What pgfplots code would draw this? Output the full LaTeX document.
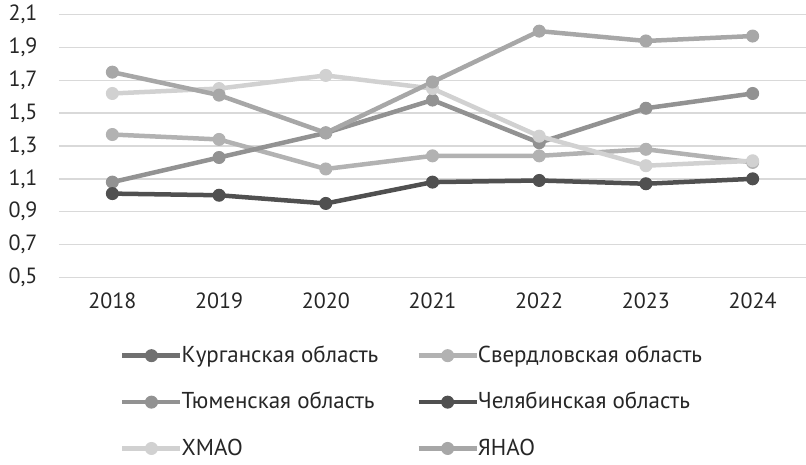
\documentclass[border=0pt]{standalone}
\usepackage{pgfplots}
\pgfplotsset{compat=1.18}
\usepackage{fontspec}
\setmainfont{PT Sans}
\definecolor{ckurgan}{HTML}{707070}
\definecolor{csverd}{HTML}{B2B2B2}
\definecolor{ctyumen}{HTML}{929292}
\definecolor{cchel}{HTML}{505050}
\definecolor{chmao}{HTML}{D1D1D1}
\definecolor{cyanao}{HTML}{A7A7A7}
\definecolor{gridgray}{HTML}{D9D9D9}
\begin{document}
\fontsize{22}{26}\selectfont
\begin{tikzpicture}
\useasboundingbox (-59pt,-186.7pt) rectangle (747pt,277.3pt);
\begin{axis}[
  at={(0,0)}, anchor=south west,
  width=747pt, height=262.6pt, scale only axis,
  xmin=-0.5, xmax=6.5, ymin=0.5, ymax=2.1,
  xtick={0,1,2,3,4,5,6},
  xticklabels={2018,2019,2020,2021,2022,2023,2024},
  ytick={0.5,0.7,0.9,1.1,1.3,1.5,1.7,1.9,2.1},
  ymajorgrids, grid style={line width=1.5pt, color=gridgray},
  axis line style={draw=none}, major tick length=0pt,
  tick label style={font=\fontsize{22}{26}\selectfont, text=black!85},
  /pgf/number format/assume math mode=true,
  yticklabel style={/pgf/number format/.cd, use comma, fixed, fixed zerofill, precision=1, /tikz/.cd, xshift=-14pt},
  xticklabel style={yshift=-8pt},
  legend columns=2, legend cell align=left,
  legend style={draw=none, fill=none, at={(axis description cs:0.0817,-0.252)}, anchor=north west,
    font=\fontsize{23}{27}\selectfont, text=black!85, row sep=22.5pt, inner sep=0pt,
    /tikz/every even column/.append style={column sep=36pt},
    /tikz/every odd column/.append style={column sep=-3pt}},
  legend image code/.code={\draw[#1, mark repeat=2, mark phase=2] plot coordinates {(0pt,0pt) (29pt,0pt) (58pt,0pt)};},
  every axis plot/.append style={line width=4.5pt, mark=*, mark size=6pt, mark options={solid, line width=1pt}},
]
\addlegendimage{ckurgan, line width=4.5pt, mark=*, mark size=6pt, mark options={solid, line width=1pt}}
\addlegendentry{Курганская область}
\addplot[csverd] coordinates {(0,1.37) (1,1.34) (2,1.16) (3,1.24) (4,1.24) (5,1.28) (6,1.20)};
\addlegendentry{Свердловская область}
\addplot[ctyumen] coordinates {(0,1.08) (1,1.23) (2,1.38) (3,1.58) (4,1.32) (5,1.53) (6,1.62)};
\addlegendentry{Тюменская область}
\addplot[cchel] coordinates {(0,1.01) (1,1.00) (2,0.95) (3,1.08) (4,1.09) (5,1.07) (6,1.10)};
\addlegendentry{Челябинская область}
\addplot[chmao] coordinates {(0,1.62) (1,1.65) (2,1.73) (3,1.65) (4,1.36) (5,1.18) (6,1.21)};
\addlegendentry{ХМАО}
\addplot[cyanao] coordinates {(0,1.75) (1,1.61) (2,1.38) (3,1.69) (4,2.00) (5,1.94) (6,1.97)};
\addlegendentry{ЯНАО}
\end{axis}
\end{tikzpicture}
\end{document}
